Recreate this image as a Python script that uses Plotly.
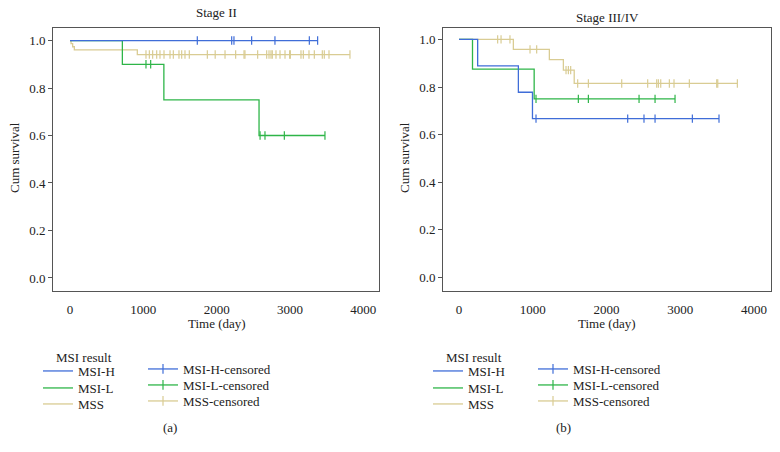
import plotly.graph_objects as go

# ---------------- data ----------------
# Stage II
II_H_time = [0, 3382]
II_H_surv = [1.0, 1.0]
II_H_cens = [1736, 2205, 2236, 2477, 2795, 3264, 3377]

II_L_time = [0, 714, 1280, 2578, 3477]
II_L_surv = [1.0, 0.9, 0.75, 0.6, 0.6]
II_L_cens = [1036, 1100, 2592, 2659, 2923, 3477]

II_S_time = [0, 14, 36, 59, 918, 3818]
II_S_surv = [1.0, 0.987, 0.974, 0.961, 0.941, 0.941]
II_S_cens = [1036, 1082, 1127, 1182, 1227, 1282, 1364, 1409, 1486, 1523, 1568, 1627,
             1873, 1980, 2114, 2259, 2373, 2386, 2559, 2682, 2714, 2741, 2759, 2809,
             2864, 2932, 2995, 3005, 3150, 3182, 3259, 3332, 3441, 3468, 3532, 3818]

# Stage III/IV
III_H_time = [0, 253, 805, 996, 3525]
III_H_surv = [1.0, 0.889, 0.778, 0.667, 0.667]
III_H_cens = [1044, 2287, 2508, 2658, 3164, 3525]

III_L_time = [0, 183, 1019, 2929]
III_L_surv = [1.0, 0.875, 0.75, 0.75]
III_L_cens = [1044, 1618, 1754, 2441, 2658, 2929]

III_S_time = [0, 737, 1225, 1415, 1562, 3774]
III_S_surv = [1.0, 0.958, 0.915, 0.871, 0.815, 0.815]
III_S_cens = [524, 570, 691, 963, 1053, 1451, 1483, 1514, 1609, 1754, 2206, 2558,
              2680, 2703, 2735, 2852, 2915, 3123, 3494, 3508, 3774]

groups = ["MSI-H", "MSI-L", "MSS"]
y_ticks = [0.0, 0.2, 0.4, 0.6, 0.8, 1.0]
x_ticks = [0, 1000, 2000, 3000, 4000]

# ---------------- style ----------------
COLORS = {"MSI-H": "#3f6dd8", "MSI-L": "#2eb548", "MSS": "#d9cc93"}
FONT = "Liberation Serif, Times New Roman, serif"
W, H = 780, 452


def step_at(times, surv, t):
    val = surv[0]
    for ti, si in zip(times, surv):
        if ti <= t:
            val = si
    return val


panels = [
    dict(xa="x", ya="y", x0=0,
         data={"MSS": (II_S_time, II_S_surv, II_S_cens),
               "MSI-L": (II_L_time, II_L_surv, II_L_cens),
               "MSI-H": (II_H_time, II_H_surv, II_H_cens)}),
    dict(xa="x2", ya="y2", x0=390,
         data={"MSS": (III_S_time, III_S_surv, III_S_cens),
               "MSI-L": (III_L_time, III_L_surv, III_L_cens),
               "MSI-H": (III_H_time, III_H_surv, III_H_cens)}),
]

fig = go.Figure()
leg_common = dict(bgcolor="rgba(0,0,0,0)", borderwidth=0, xanchor="left", yanchor="middle",
                  font=dict(family=FONT, size=13, color="#222222"), itemwidth=30,
                  itemclick=False, itemdoubleclick=False)
legends = {}
leg_i = 0
col1_y = [371, 388, 404]
col2_y = [369, 385, 401]

for p in panels:
    for g in ["MSS", "MSI-L", "MSI-H"]:
        t, s, c = p["data"][g]
        fig.add_trace(go.Scatter(
            x=t, y=s, mode="lines", line=dict(color=COLORS[g], width=1.3, shape="hv"),
            xaxis=p["xa"], yaxis=p["ya"], name=g, showlegend=False, hoverinfo="skip"))
    for g in ["MSS", "MSI-L", "MSI-H"]:
        t, s, c = p["data"][g]
        fig.add_trace(go.Scatter(
            x=c, y=[step_at(t, s, ci) for ci in c], mode="markers",
            marker=dict(symbol="line-ns", size=6, line=dict(color=COLORS[g], width=1.2)),
            xaxis=p["xa"], yaxis=p["ya"], name=g + "-censored", showlegend=False,
            hoverinfo="skip"))
    # legend entries, one legend box per entry for exact placement
    for k, g in enumerate(groups):
        leg_i += 1
        lname = "legend" if leg_i == 1 else f"legend{leg_i}"
        legends[lname] = dict(x=(p["x0"] + 38) / W, y=1 - col1_y[k] / H, **leg_common)
        fig.add_trace(go.Scatter(
            x=[None], y=[None], mode="lines", line=dict(color=COLORS[g], width=1.3),
            xaxis=p["xa"], yaxis=p["ya"], name=g, legend=lname))
    for k, g in enumerate(groups):
        leg_i += 1
        lname = f"legend{leg_i}"
        legends[lname] = dict(x=(p["x0"] + 143) / W, y=1 - col2_y[k] / H, **leg_common)
        fig.add_trace(go.Scatter(
            x=[None], y=[None], mode="lines+markers", line=dict(color=COLORS[g], width=1.3),
            marker=dict(symbol="line-ns", size=7, line=dict(color=COLORS[g], width=1.2)),
            xaxis=p["xa"], yaxis=p["ya"], name=g + "-censored", legend=lname))

axis_common = dict(showline=True, linecolor="#555555", linewidth=1, mirror=True,
                   showgrid=False, zeroline=False,
                   tickfont=dict(family=FONT, size=13, color="#222222"))

ydom = [1 - 291 / H, 1 - 27.5 / H]
fig.update_layout(
    width=W, height=H, margin=dict(l=0, r=0, t=0, b=0),
    paper_bgcolor="white", plot_bgcolor="white",
    font=dict(family=FONT, size=13, color="#222222"),
    xaxis=dict(domain=[53 / W, 379 / W], range=[-232, 4214], tickvals=x_ticks,
               ticks="outside", ticklen=6, tickcolor="rgba(0,0,0,0)", **axis_common),
    yaxis=dict(domain=ydom, range=[-0.055, 1.055], tickvals=y_ticks, tickformat=".1f",
               ticks="outside", ticklen=4, tickcolor="#555555", **axis_common),
    xaxis2=dict(domain=[443 / W, 771 / W], range=[-217, 4230], tickvals=x_ticks,
                ticks="outside", ticklen=6, tickcolor="rgba(0,0,0,0)", anchor="y2",
                **axis_common),
    yaxis2=dict(domain=ydom, range=[-0.057, 1.05], tickvals=y_ticks, tickformat=".1f",
                ticks="outside", ticklen=4, tickcolor="#555555", anchor="x2",
                **axis_common),
    showlegend=True,
    **legends,
)

ann = [
    ("Stage II", 216, 13, 0),
    ("Stage III/IV", 607, 17, 0),
    ("Time (day)", 217, 323, 0),
    ("Time (day)", 607, 323, 0),
    ("Cum survival", 14, 158, -90),
    ("Cum survival", 404, 158, -90),
    ("(a)", 170, 427, 0),
    ("(b)", 563, 427, 0),
]
for txt, x, y, ang in ann:
    fig.add_annotation(text=txt, x=x / W, y=1 - y / H, xref="paper", yref="paper",
                       showarrow=False, textangle=ang, xanchor="center", yanchor="middle",
                       font=dict(family=FONT, size=13, color="#222222"))
for x in [54, 444]:
    fig.add_annotation(text="MSI result", x=x / W, y=1 - 357 / H, xref="paper", yref="paper",
                       showarrow=False, xanchor="left", yanchor="middle",
                       font=dict(family=FONT, size=13, color="#222222"))

fig.write_html("out.html",
               config={"displayModeBar": False},
               post_script="document.body.style.margin='0';"
                           "document.body.style.overflow='hidden';")
